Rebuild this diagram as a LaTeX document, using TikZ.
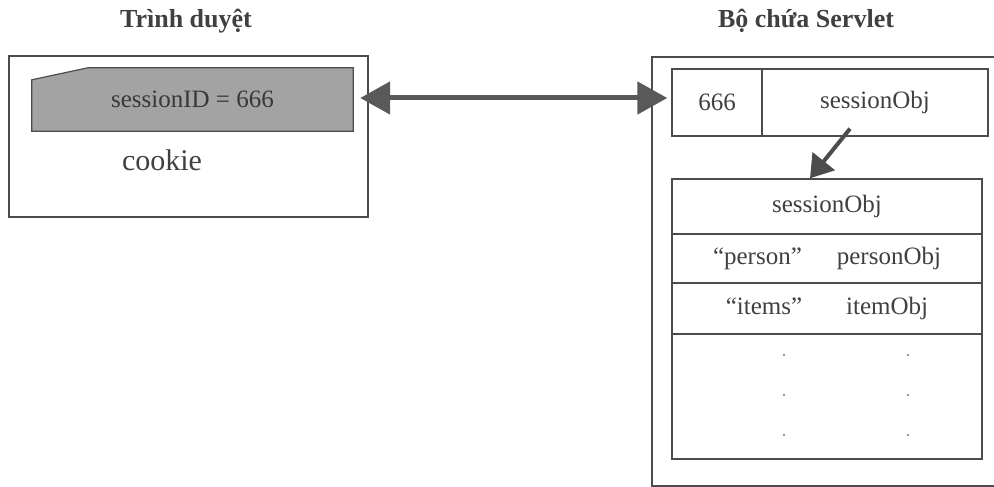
\documentclass[tikz,border=0pt]{standalone}
\usepackage{fontspec}
\setmainfont{Liberation Serif}
\usetikzlibrary{arrows.meta, backgrounds, calc}

\tikzset{
  box/.style={draw=black!70, line width=1.4pt, shape=rectangle, inner sep=0pt,
    text=black!75, font=\fontsize{25}{30}\selectfont},
  title/.style={font=\bfseries\fontsize{26}{31}\selectfont, text=black!75, anchor=base},
  dot/.style={shape=circle, fill=black!55, inner sep=0pt, minimum size=2.2pt},
  link/.style={draw=black!65, line width=5pt,
    {Triangle[length=30pt,width=32pt]}-{Triangle[length=30pt,width=32pt]}},
  pointer/.style={draw=black!70, line width=4pt, -{Triangle[length=22pt,width=28pt]}}
}

\begin{document}
\begin{tikzpicture}[x=1pt, y=-1pt, every text node part/.style={align=center}]
\useasboundingbox (0,0) rectangle (994,487);
\clip (0,0) rectangle (994,487);

\node [title] (browsertitle) at (186,28) {Trình duyệt};
\node [title] (containertitle) at (806,28) {Bộ chứa Servlet};

\node [box, minimum width=359pt, minimum height=161pt] (browser) at (188.5,136.5) {};
\node [box, minimum width=350pt, minimum height=429pt] (container) at (827,271.5) {};

\node [shape=rectangle, inner sep=0pt, minimum width=321pt, minimum height=63pt,
  text=black!78, font=\fontsize{25}{30}\selectfont] (cookie) at (192.5,99.5) {sessionID = 666};
\begin{scope}[on background layer]
\filldraw [draw=black!70, line width=1.2pt, fill=black!36]
  ($(cookie.north west)+(0,12)$) -- ($(cookie.north west)+(56,0)$) -- (cookie.north east)
  -- (cookie.south east) -- (cookie.south west) -- cycle;
\end{scope}
\node [text=black!75, font=\fontsize{30}{36}\selectfont] (cookielabel) at (162,160) {cookie};

\node [box, minimum width=90pt, minimum height=67pt] (key) at (717,102.5) {666};
\node [box, minimum width=226pt, minimum height=67pt] (val) at (875,102.5) {sessionObj};

\node [box, minimum width=310pt, minimum height=55pt] (head) at (827,206.5) {sessionObj};
\node [box, minimum width=310pt, minimum height=49pt] (person) at (827,258.5) {“person”\hspace{35pt}personObj};
\node [box, minimum width=310pt, minimum height=51pt] (items) at (827,308.5) {“items”\hspace{44pt}itemObj};
\node [box, minimum width=310pt, minimum height=125pt] (rest) at (827,396.5) {};
\foreach \y in {355,395,435} {
  \node [dot] (dotl\y) at (784,\y) {};
  \node [dot] (dotr\y) at (908,\y) {};
}

\draw [link, shorten <=7pt, shorten >=4pt] ([yshift=1.5pt]cookie.east) -- ([yshift=1.5pt]cookie.east -| key.west);
\draw [pointer] ($(val.south)+(-25,-8)$) -- ([xshift=-17pt]head.north);
\end{tikzpicture}
\end{document}
